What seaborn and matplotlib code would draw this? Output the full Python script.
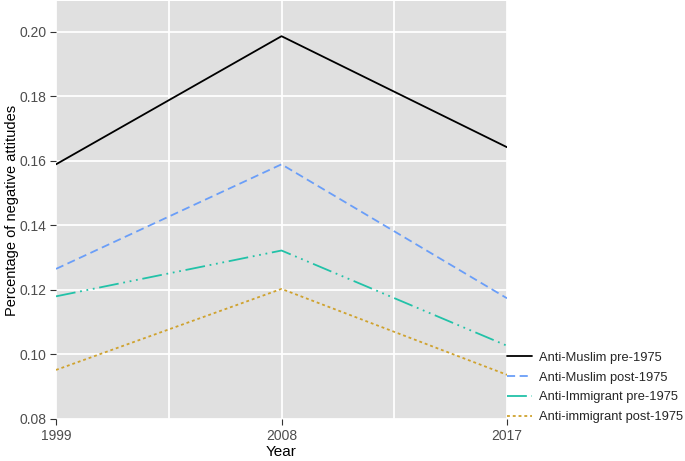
import matplotlib
matplotlib.use("Agg")
import matplotlib.pyplot as plt
import seaborn as sns
import pandas as pd
from matplotlib.ticker import MultipleLocator, FixedLocator, FormatStrFormatter

years = [1999, 2008, 2017]
series_names = ["Anti-Muslim pre-1975", "Anti-Muslim post-1975",
                "Anti-Immigrant pre-1975", "Anti-immigrant post-1975"]
muslim_pre = [0.1589, 0.1986, 0.1642]
muslim_post = [0.1265, 0.1589, 0.1174]
immig_pre = [0.1180, 0.1322, 0.1027]
immig_post = [0.0952, 0.1203, 0.0937]

colors = ["#000000", "#6A9EF8", "#22C2A8", "#CFA22E"]
dashes = ["", (4.5, 2.5), (11, 2.6, 1, 2.6, 1, 2.6, 1, 2.6), (1.6, 1.6)]

df = pd.DataFrame({
    "Year": years * 4,
    "value": muslim_pre + muslim_post + immig_pre + immig_post,
    "group": [n for n in series_names for _ in years],
})

sns.set_theme(style="darkgrid", rc={
    "axes.facecolor": "#E0E0E0",
    "grid.color": "white",
    "grid.linewidth": 1.3,
    "xtick.bottom": True,
    "ytick.left": True,
})
plt.rcParams["font.family"] = ["Liberation Sans", "DejaVu Sans"]

fig = plt.figure(figsize=(6.85, 4.61), dpi=100)
ax = fig.add_axes([56 / 685, 1 - 419 / 461, (507 - 56) / 685, 418 / 461])

sns.lineplot(data=df, x="Year", y="value", hue="group", style="group",
             hue_order=series_names, style_order=series_names,
             palette=dict(zip(series_names, colors)),
             dashes=dict(zip(series_names, dashes)),
             linewidth=1.3, ax=ax)

ax.set_xlim(1999, 2017)
ax.set_ylim(0.08, 0.2095)
ax.set_xticks(years)
ax.xaxis.set_minor_locator(FixedLocator([2003.5, 2012.5]))
ax.yaxis.set_major_locator(MultipleLocator(0.02))
ax.yaxis.set_major_formatter(FormatStrFormatter("%.2f"))
ax.grid(which="minor", axis="x", color="white", linewidth=1.3)
ax.grid(which="major", color="white", linewidth=1.3)
ax.tick_params(axis="both", which="major", length=4, width=0.8,
               color="#333333", labelcolor="#4D4D4D", labelsize=10, pad=3)
ax.tick_params(axis="both", which="minor", length=0)
for s in ax.spines.values():
    s.set_visible(False)

ax.set_xlabel("Year", fontsize=11, color="black", labelpad=2)
ax.set_ylabel("Percentage of negative attitudes", fontsize=10.5, color="black")
ax.yaxis.set_label_coords(-0.083, 0.5)

handles, labels = ax.get_legend_handles_labels()
ax.legend(handles, labels, loc="center left",
          bbox_to_anchor=(507 / 685, 1 - 387.5 / 461),
          bbox_transform=fig.transFigure, frameon=False,
          fontsize=9.3, handlelength=1.9, handletextpad=0.6,
          labelspacing=0.6, borderpad=0, borderaxespad=0)

fig.savefig("out.png", dpi=100)
